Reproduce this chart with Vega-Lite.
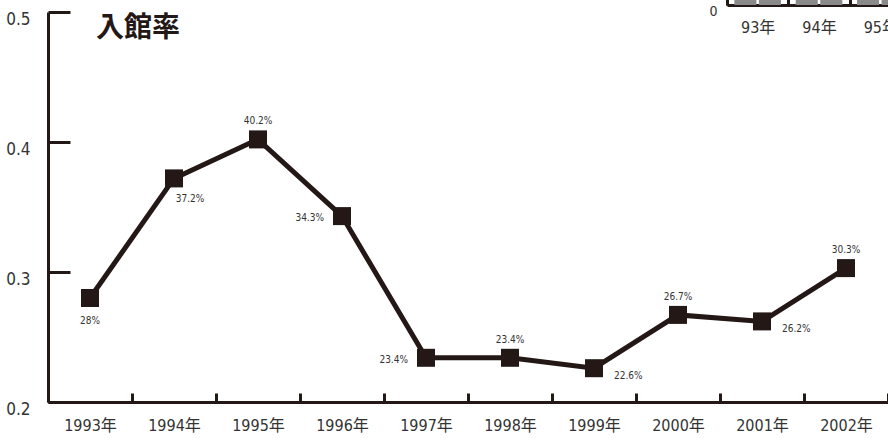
{
  "$schema": "https://vega.github.io/schema/vega-lite/v6.json",
  "width": 840,
  "height": 390,
  "autosize": {"type": "none"},
  "padding": {"left": 48, "top": 12, "right": 0, "bottom": 39},
  "background": "white",
  "config": {
    "view": {"stroke": null},
    "axis": {"grid": false}
  },
  "datasets": {
    "rates": [
      {"year": "1993年", "rate": 0.280, "label": "28%", "pos": "below"},
      {"year": "1994年", "rate": 0.372, "label": "37.2%", "pos": "belowright"},
      {"year": "1995年", "rate": 0.402, "label": "40.2%", "pos": "above"},
      {"year": "1996年", "rate": 0.343, "label": "34.3%", "pos": "left"},
      {"year": "1997年", "rate": 0.234, "label": "23.4%", "pos": "left"},
      {"year": "1998年", "rate": 0.234, "label": "23.4%", "pos": "above"},
      {"year": "1999年", "rate": 0.226, "label": "22.6%", "pos": "right"},
      {"year": "2000年", "rate": 0.267, "label": "26.7%", "pos": "above"},
      {"year": "2001年", "rate": 0.262, "label": "26.2%", "pos": "right"},
      {"year": "2002年", "rate": 0.303, "label": "30.3%", "pos": "above"}
    ],
    "inset": [
      {"yr": "93年", "s": "a", "v": 20},
      {"yr": "93年", "s": "b", "v": 20},
      {"yr": "94年", "s": "a", "v": 20},
      {"yr": "94年", "s": "b", "v": 20},
      {"yr": "95年", "s": "a", "v": 20},
      {"yr": "95年", "s": "b", "v": 20}
    ]
  },
  "layer": [
    {
      "data": {"name": "rates"},
      "encoding": {
        "x": {
          "field": "year",
          "type": "ordinal",
          "sort": null,
          "scale": {"paddingInner": 0, "paddingOuter": 0},
          "axis": {
            "title": null,
            "labelAngle": 0,
            "domainColor": "#231815",
            "domainWidth": 3,
            "tickColor": "#231815",
            "tickWidth": 3,
            "tickSize": -9,
            "tickBand": "extent",
            "labelPadding": 24,
            "labelBaseline": "top",
            "labelFont": "DejaVu Sans Condensed, DejaVu Sans, Noto Sans CJK JP",
            "labelFontSize": 16,
            "labelColor": "#333333"
          }
        },
        "y": {
          "field": "rate",
          "type": "quantitative",
          "scale": {"domain": [0.2, 0.5], "nice": false, "zero": false},
          "axis": {
            "title": null,
            "values": [0.2, 0.3, 0.4, 0.5],
            "format": ".1f",
            "domainColor": "#231815",
            "domainWidth": 3,
            "tickColor": "#231815",
            "tickWidth": 3,
            "tickSize": -22,
            "labelPadding": 40,
            "labelOffset": 7,
            "labelFont": "DejaVu Sans Condensed, DejaVu Sans",
            "labelFontSize": 17,
            "labelColor": "#333333"
          }
        }
      },
      "layer": [
        {
          "mark": {"type": "line", "color": "#231815", "strokeWidth": 5}
        },
        {
          "mark": {"type": "point", "shape": "square", "filled": true, "size": 324, "color": "#231815", "opacity": 1}
        },
        {
          "transform": [{"filter": "datum.pos === 'above'"}],
          "mark": {"type": "text", "dy": -18, "align": "center", "baseline": "middle", "font": "DejaVu Sans Condensed, DejaVu Sans", "fontSize": 10, "color": "#333333"},
          "encoding": {"text": {"field": "label"}}
        },
        {
          "transform": [{"filter": "datum.pos === 'below'"}],
          "mark": {"type": "text", "dy": 23, "align": "center", "baseline": "middle", "font": "DejaVu Sans Condensed, DejaVu Sans", "fontSize": 10, "color": "#333333"},
          "encoding": {"text": {"field": "label"}}
        },
        {
          "transform": [{"filter": "datum.pos === 'belowright'"}],
          "mark": {"type": "text", "dx": 16, "dy": 21, "align": "center", "baseline": "middle", "font": "DejaVu Sans Condensed, DejaVu Sans", "fontSize": 10, "color": "#333333"},
          "encoding": {"text": {"field": "label"}}
        },
        {
          "transform": [{"filter": "datum.pos === 'left'"}],
          "mark": {"type": "text", "dx": -18, "dy": 2, "align": "right", "baseline": "middle", "font": "DejaVu Sans Condensed, DejaVu Sans", "fontSize": 10, "color": "#333333"},
          "encoding": {"text": {"field": "label"}}
        },
        {
          "transform": [{"filter": "datum.pos === 'right'"}],
          "mark": {"type": "text", "dx": 20, "dy": 8, "align": "left", "baseline": "middle", "font": "DejaVu Sans Condensed, DejaVu Sans", "fontSize": 10, "color": "#333333"},
          "encoding": {"text": {"field": "label"}}
        },
        {
          "transform": [{"filter": "datum.year === '1993年'"}],
          "mark": {"type": "text", "text": "入館率", "align": "left", "baseline": "middle", "dx": 6, "dy": 17, "font": "Noto Sans CJK JP", "fontSize": 28, "fontWeight": "bold", "color": "#231815"},
          "encoding": {
            "y": {"datum": 0.5}
          }
        }
      ]
    },
    {
      "data": {"name": "inset"},
      "encoding": {
        "x": {
          "field": "yr",
          "type": "ordinal",
          "scale": {"range": [679, 863], "paddingInner": 0, "paddingOuter": 0},
          "axis": {
            "title": null,
            "orient": "bottom",
            "offset": -397,
            "labelAngle": 0,
            "domainColor": "#231815",
            "domainWidth": 3,
            "tickColor": "#231815",
            "tickWidth": 3,
            "tickSize": -20,
            "tickBand": "extent",
            "labelPadding": 42,
            "labelBaseline": "middle",
            "labelFont": "DejaVu Sans Condensed, DejaVu Sans, Noto Sans CJK JP",
            "labelFontSize": 16,
            "labelColor": "#333333"
          }
        },
        "y": {
          "field": "v",
          "type": "quantitative",
          "scale": {"domain": [0, 10], "range": [-7, -40], "nice": false},
          "axis": {
            "title": null,
            "orient": "left",
            "offset": -679,
            "values": [0],
            "ticks": false,
            "labelPadding": 10,
            "labelOffset": 6,
            "domainColor": "#231815",
            "domainWidth": 3,
            "labelFont": "DejaVu Sans Condensed, DejaVu Sans",
            "labelFontSize": 14,
            "labelColor": "#333333"
          }
        }
      },
      "layer": [
        {
          "mark": {"type": "bar", "color": "#8a8a8a"},
          "encoding": {
            "xOffset": {"field": "s", "type": "nominal", "scale": {"paddingInner": 0.1, "paddingOuter": 0.3}}
          }
        }
      ]
    }
  ],
  "resolve": {
    "scale": {"x": "independent", "y": "independent"},
    "axis": {"x": "independent", "y": "independent"}
  }
}
